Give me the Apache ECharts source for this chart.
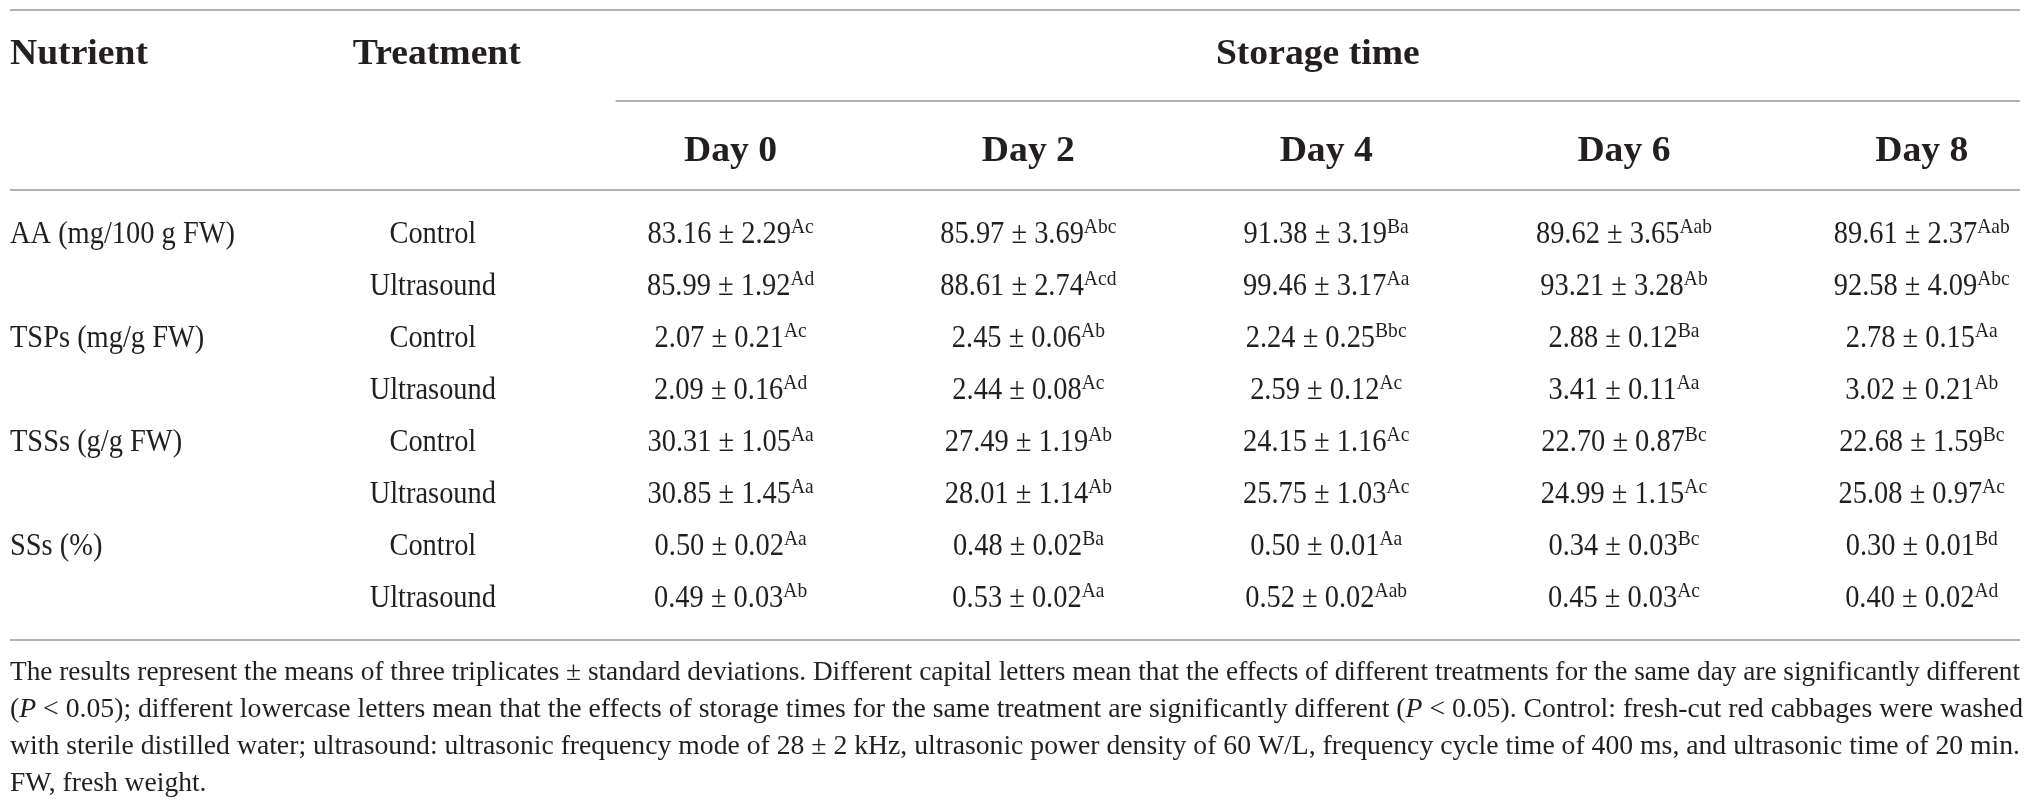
<!DOCTYPE html>
<html>
<head>
<meta charset="utf-8">
<script src="https://cdn.jsdelivr.net/npm/echarts@6/dist/echarts.min.js"></script>
<style>
  html, body { margin: 0; padding: 0; background: #fff; }
  #main { width: 2030px; height: 809px; }
</style>
</head>
<body>
<div id="main"></div>
<script>
const days = ['Day 0', 'Day 2', 'Day 4', 'Day 6', 'Day 8'];
const nutrients = ['AA (mg/100 g FW)', 'TSPs (mg/g FW)', 'TSSs (g/g FW)', 'SSs (%)'];
const treatments = ['Control', 'Ultrasound'];

// [control, ultrasound] x days
const aaMean = [[83.16, 85.97, 91.38, 89.62, 89.61], [85.99, 88.61, 99.46, 93.21, 92.58]];
const aaSd = [[2.29, 3.69, 3.19, 3.65, 2.37], [1.92, 2.74, 3.17, 3.28, 4.09]];
const aaSig = [['Ac', 'Abc', 'Ba', 'Aab', 'Aab'], ['Ad', 'Acd', 'Aa', 'Ab', 'Abc']];

const tspMean = [[2.07, 2.45, 2.24, 2.88, 2.78], [2.09, 2.44, 2.59, 3.41, 3.02]];
const tspSd = [[0.21, 0.06, 0.25, 0.12, 0.15], [0.16, 0.08, 0.12, 0.11, 0.21]];
const tspSig = [['Ac', 'Ab', 'Bbc', 'Ba', 'Aa'], ['Ad', 'Ac', 'Ac', 'Aa', 'Ab']];

const tssMean = [[30.31, 27.49, 24.15, 22.70, 22.68], [30.85, 28.01, 25.75, 24.99, 25.08]];
const tssSd = [[1.05, 1.19, 1.16, 0.87, 1.59], [1.45, 1.14, 1.03, 1.15, 0.97]];
const tssSig = [['Aa', 'Ab', 'Ac', 'Bc', 'Bc'], ['Aa', 'Ab', 'Ac', 'Ac', 'Ac']];

const ssMean = [[0.50, 0.48, 0.50, 0.34, 0.30], [0.49, 0.53, 0.52, 0.45, 0.40]];
const ssSd = [[0.02, 0.02, 0.01, 0.03, 0.01], [0.03, 0.02, 0.02, 0.03, 0.02]];
const ssSig = [['Aa', 'Ba', 'Aa', 'Bc', 'Bd'], ['Ab', 'Aa', 'Aab', 'Ac', 'Ad']];

const footLines = [
  'The results represent the means of three triplicates ± standard deviations. Different capital letters mean that the effects of different treatments for the same day are significantly different',
  '({i|P} < 0.05); different lowercase letters mean that the effects of storage times for the same treatment are significantly different ({i|P} < 0.05). Control: fresh-cut red cabbages were washed',
  'with sterile distilled water; ultrasound: ultrasonic frequency mode of 28 ± 2 kHz, ultrasonic power density of 60 W/L, frequency cycle time of 400 ms, and ultrasonic time of 20 min.',
  'FW, fresh weight.'
];

const FONT = '"Liberation Serif", "DejaVu Serif", serif';
const INK = '#231f20';
const RULE = '#b3b3b3';

// column 0 is the nutrient column (left aligned at the axis min), 1 treatment, 2.. days
const X_MIN = -0.42;
const X_MAX = 6.33;

const measureCtx = document.createElement('canvas').getContext('2d');
function textWidth(text, size, weight) {
  measureCtx.font = (weight || 'normal') + ' ' + size + 'px ' + FONT;
  return measureCtx.measureText(text).width;
}

// the original face is a condensed serif: larger size, squeezed to the measured widths
const bodySize = 32;
const bodyScale = 225 / textWidth(nutrients[0], bodySize);
const headSize = 36;
const headScale = 138 / textWidth('Nutrient', headSize, 'bold');
const footSize = 28;

const groups = [
  { mean: aaMean, sd: aaSd, sig: aaSig },
  { mean: tspMean, sd: tspSd, sig: tspSig },
  { mean: tssMean, sd: tssSd, sig: tssSig },
  { mean: ssMean, sd: ssSd, sig: ssSig }
];

const rowNames = [];
const cells = [];
groups.forEach((g, n) => {
  treatments.forEach((t, k) => {
    const row = rowNames.length;
    rowNames.push(nutrients[n] + ' / ' + t);
    if (k === 0) cells.push({ col: X_MIN, row, text: nutrients[n], align: 'left' });
    cells.push({ col: 1, row, text: t, align: 'center' });
    days.forEach((d, j) => {
      cells.push({
        col: 2 + j,
        row,
        text: g.mean[k][j].toFixed(2) + ' ± ' + g.sd[k][j].toFixed(2),
        sup: g.sig[k][j],
        align: 'center'
      });
    });
  });
});

const richBody = {
  v: { fontFamily: FONT, fontSize: bodySize, lineHeight: 34, fill: INK },
  s: { fontFamily: FONT, fontSize: 22, height: 19, verticalAlign: 'top', fill: INK }
};

function renderCell(params, api) {
  const c = cells[params.dataIndex];
  const p = api.coord([api.value(0), api.value(1)]);
  const text = '{v|' + c.text + '}' + (c.sup ? '{s|' + c.sup + '}' : '');
  return {
    type: 'text',
    x: p[0],
    y: p[1],
    scaleX: bodyScale,
    style: { text, rich: richBody, fill: INK, align: c.align, verticalAlign: 'middle' }
  };
}

const chart = echarts.init(document.getElementById('main'));
chart.setOption({
  animation: false,
  backgroundColor: '#fff',
  grid: { left: 10, right: 10, top: 209, height: 416 },
  xAxis: { type: 'value', min: X_MIN, max: X_MAX, show: false },
  yAxis: { type: 'category', data: rowNames, inverse: true, show: false },
  series: [{
    type: 'custom',
    silent: true,
    renderItem: renderCell,
    data: cells.map(c => [c.col, c.row])
  }]
});

const colX = v => chart.convertToPixel({ xAxisIndex: 0 }, v);
const left = colX(X_MIN);
const right = colX(X_MAX);
const storageStart = colX(2) - 115;

function rule(x1, x2, y) {
  return { type: 'line', silent: true, shape: { x1, y1: y, x2, y2: y }, style: { stroke: RULE, lineWidth: 2 } };
}
function head(text, x, y, align) {
  return {
    type: 'text', x, y, scaleX: headScale, silent: true,
    style: { text, fontFamily: FONT, fontSize: headSize, fontWeight: 'bold', fill: INK, align, verticalAlign: 'middle' }
  };
}

const graphics = [
  rule(left, right, 10),
  rule(storageStart, right, 101),
  rule(left, right, 190),
  rule(left, right, 640),
  head('Nutrient', left, 55, 'left'),
  head('Treatment', colX(1) + 4, 55, 'center'),
  head('Storage time', (storageStart + right) / 2, 55, 'center')
];
days.forEach((d, j) => graphics.push(head(d, colX(2 + j), 152, 'center')));

const footY = [673, 710, 747, 784];
const footScales = footLines.map(l => (right - left) / textWidth(l.replace(/\{i\|P\}/g, 'P'), footSize));
const avgScale = (footScales[0] + footScales[1] + footScales[2]) / 3;
footLines.forEach((line, i) => {
  graphics.push({
    type: 'text', x: left, y: footY[i], silent: true,
    scaleX: i < footLines.length - 1 ? footScales[i] : avgScale,
    style: {
      text: line, fontFamily: FONT, fontSize: footSize, fill: INK, align: 'left', verticalAlign: 'middle',
      rich: { i: { fontFamily: FONT, fontSize: footSize, fontStyle: 'italic', fill: INK } }
    }
  });
});

chart.setOption({ graphic: graphics });
</script>
</body>
</html>
